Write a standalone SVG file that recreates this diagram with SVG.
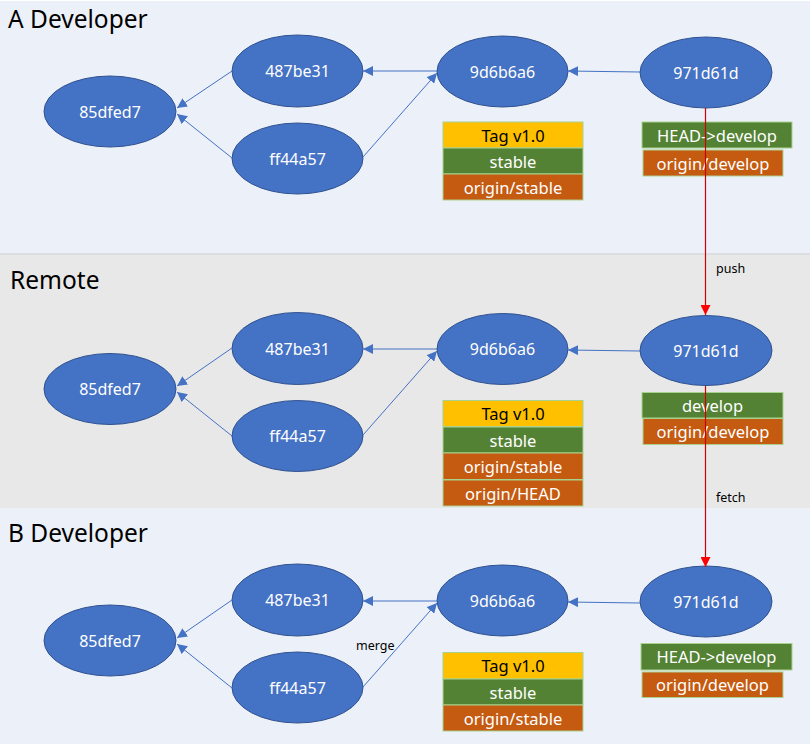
<svg xmlns="http://www.w3.org/2000/svg" width="810" height="744" viewBox="0 0 810 744">
<defs>
<style>
.panelA{fill:#ECF0F8}
.panelR{fill:#E8E8E8}
.title{font-family:"Noto Sans","Liberation Sans",sans-serif;font-size:24.5px;fill:#000}
.node ellipse{fill:#4472C4;stroke:#2F528F;stroke-width:1}
.node text{font-family:"Noto Sans","Liberation Sans",sans-serif;font-size:16px;fill:#fff;text-anchor:middle;dominant-baseline:central}
.lbl rect{stroke:#A9D18E;stroke-width:1}
.lbl text{font-family:"Noto Sans","Liberation Sans",sans-serif;font-size:16.5px;fill:#fff;text-anchor:middle;dominant-baseline:central}
.lbl text.dark{fill:#000}
.y{fill:#FFC000}.g{fill:#548235}.o{fill:#C55A11}
.edge{stroke:#4472C4;stroke-width:1;fill:none;marker-end:url(#ab)}
.red{stroke:#D00000;stroke-width:1.2;fill:none;marker-end:url(#ar)}
.small{font-family:"Noto Sans","Liberation Sans",sans-serif;font-size:12.5px;fill:#000}
</style>
<marker id="ab" viewBox="0 0 10 10" refX="10" refY="5" markerWidth="10" markerHeight="10" markerUnits="userSpaceOnUse" orient="auto"><path d="M0,0L10,5L0,10z" fill="#4472C4"/></marker>
<marker id="ar" viewBox="0 0 10 10" refX="10" refY="5" markerWidth="10" markerHeight="10" markerUnits="userSpaceOnUse" orient="auto"><path d="M0,0L10,5L0,10z" fill="#FF0000"/></marker>
</defs>

<g id="panels">
<rect x="0" y="0" width="810" height="744" fill="#fff"/>
<rect class="panelA" x="0" y="1" width="810" height="252"/>
<rect x="0" y="253" width="810" height="2" fill="#DCDEE2"/>
<rect class="panelR" x="0" y="255" width="810" height="253"/>
<rect class="panelA" x="0" y="508" width="810" height="236"/>
<text class="title" x="8" y="28">A Developer</text>
<text class="title" x="10" y="289">Remote</text>
<text class="title" x="8" y="542">B Developer</text>
</g>

<g id="A-85dfed7" class="node"><ellipse cx="110" cy="111.5" rx="66" ry="35.5"/><text x="110" y="111.5">85dfed7</text></g>
<g id="A-487be31" class="node"><ellipse cx="297.5" cy="71" rx="65.5" ry="36"/><text x="297.5" y="71">487be31</text></g>
<g id="A-ff44a57" class="node"><ellipse cx="297.5" cy="158.5" rx="65.5" ry="35.5"/><text x="297.5" y="158.5">ff44a57</text></g>
<g id="A-9d6b6a6" class="node"><ellipse cx="502.5" cy="71.5" rx="65.5" ry="35.5"/><text x="502.5" y="71.5">9d6b6a6</text></g>
<g id="A-971d61d" class="node"><ellipse cx="706" cy="72.5" rx="66" ry="35.5"/><text x="706" y="72.5">971d61d</text></g>

<g id="A-tags" class="lbl">
<rect class="y" x="443" y="122" width="140" height="26"/><text class="dark" x="513" y="135">Tag v1.0</text>
<rect class="g" x="443" y="148" width="140" height="26"/><text x="513" y="161">stable</text>
<rect class="o" x="443" y="174" width="140" height="26"/><text x="513" y="187">origin/stable</text>
</g>
<g id="A-branches" class="lbl">
<rect class="g" x="642" y="122" width="150" height="26"/><text x="717" y="135">HEAD-&gt;develop</text>
<rect class="o" x="643" y="150" width="140" height="26"/><text x="713" y="163">origin/develop</text>
</g>

<g id="R-85dfed7" class="node"><ellipse cx="110" cy="389" rx="66" ry="35.5"/><text x="110" y="389">85dfed7</text></g>
<g id="R-487be31" class="node"><ellipse cx="297.5" cy="348.5" rx="65.5" ry="36"/><text x="297.5" y="348.5">487be31</text></g>
<g id="R-ff44a57" class="node"><ellipse cx="297.5" cy="436" rx="65.5" ry="35.5"/><text x="297.5" y="436">ff44a57</text></g>
<g id="R-9d6b6a6" class="node"><ellipse cx="502.5" cy="349" rx="65.5" ry="35.5"/><text x="502.5" y="349">9d6b6a6</text></g>
<g id="R-971d61d" class="node"><ellipse cx="706" cy="350.5" rx="66" ry="35"/><text x="706" y="350.5">971d61d</text></g>

<g id="R-tags" class="lbl">
<rect class="y" x="443" y="400.5" width="140" height="26"/><text class="dark" x="513" y="413.5">Tag v1.0</text>
<rect class="g" x="443" y="427" width="140" height="26"/><text x="513" y="440">stable</text>
<rect class="o" x="443" y="453" width="140" height="26.5"/><text x="513" y="466">origin/stable</text>
<rect class="o" x="443" y="480" width="140" height="26"/><text x="513" y="493">origin/HEAD</text>
</g>
<g id="R-branches" class="lbl">
<rect class="g" x="642" y="392.5" width="141" height="25.5"/><text x="712.5" y="405.5">develop</text>
<rect class="o" x="643" y="418.5" width="140" height="26"/><text x="713" y="431.5">origin/develop</text>
</g>

<g id="B-85dfed7" class="node"><ellipse cx="110" cy="640.5" rx="66" ry="35.5"/><text x="110" y="640.5">85dfed7</text></g>
<g id="B-487be31" class="node"><ellipse cx="297.5" cy="600" rx="65.5" ry="36"/><text x="297.5" y="600">487be31</text></g>
<g id="B-ff44a57" class="node"><ellipse cx="297.5" cy="687.5" rx="65.5" ry="35.5"/><text x="297.5" y="687.5">ff44a57</text></g>
<g id="B-9d6b6a6" class="node"><ellipse cx="502.5" cy="600.5" rx="65.5" ry="35.5"/><text x="502.5" y="600.5">9d6b6a6</text></g>
<g id="B-971d61d" class="node"><ellipse cx="706" cy="601.5" rx="66" ry="35.5"/><text x="706" y="601.5">971d61d</text></g>

<g id="B-tags" class="lbl">
<rect class="y" x="443" y="652.5" width="140" height="26.5"/><text class="dark" x="513" y="665.5">Tag v1.0</text>
<rect class="g" x="443" y="679" width="140" height="26"/><text x="513" y="692">stable</text>
<rect class="o" x="443" y="705" width="140" height="26"/><text x="513" y="718">origin/stable</text>
</g>
<g id="B-branches" class="lbl">
<rect class="g" x="641" y="643.5" width="151" height="26.5"/><text x="716.5" y="656.5">HEAD-&gt;develop</text>
<rect class="o" x="642" y="672" width="141" height="25.5"/><text x="712.5" y="684.5">origin/develop</text>
</g>

<g id="connectors">
<!-- A -->
<line class="edge" x1="232" y1="71" x2="177" y2="108"/>
<line class="edge" x1="232" y1="158" x2="177" y2="114"/>
<line class="edge" x1="437" y1="71" x2="363" y2="71"/>
<line class="edge" x1="363" y1="157" x2="437" y2="73"/>
<line class="edge" x1="640" y1="72" x2="568" y2="71"/>
<!-- Remote -->
<line class="edge" x1="232" y1="348" x2="177" y2="386"/>
<line class="edge" x1="232" y1="436" x2="177" y2="392"/>
<line class="edge" x1="437" y1="349" x2="363" y2="349"/>
<line class="edge" x1="363" y1="435" x2="437" y2="351"/>
<line class="edge" x1="640" y1="351" x2="568" y2="350"/>
<!-- B -->
<line class="edge" x1="232" y1="600" x2="177" y2="638"/>
<line class="edge" x1="232" y1="688" x2="177" y2="644"/>
<line class="edge" x1="437" y1="601" x2="363" y2="601"/>
<line class="edge" x1="363" y1="687" x2="437" y2="603"/>
<line class="edge" x1="640" y1="603" x2="568" y2="602"/>
<!-- push / fetch -->
<line class="red" x1="705.5" y1="108" x2="705.5" y2="315"/>
<line class="red" x1="705.5" y1="386" x2="705.5" y2="567"/>
<text class="small" x="716" y="273">push</text>
<text class="small" x="716" y="502">fetch</text>
<text class="small" x="356" y="650">merge</text>
</g>
</svg>
